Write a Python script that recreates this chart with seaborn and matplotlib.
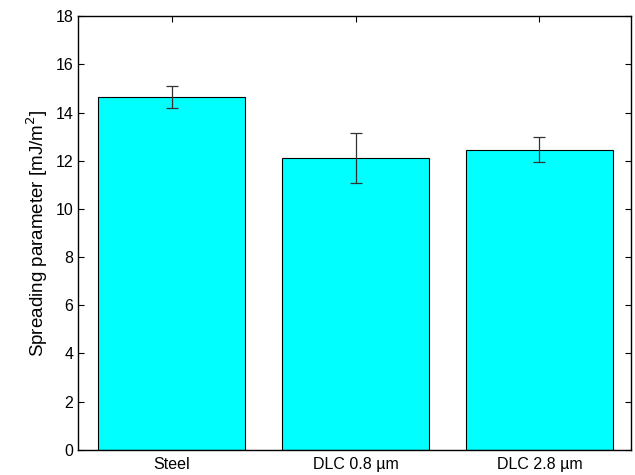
import matplotlib
matplotlib.use("Agg")
import matplotlib.pyplot as plt
import seaborn as sns
import pandas as pd

sns.set_theme(style="ticks")
plt.rcParams["font.family"] = ["Liberation Sans", "DejaVu Sans"]
plt.rcParams["text.color"] = "black"
plt.rcParams["axes.labelcolor"] = "black"
plt.rcParams["xtick.color"] = "black"
plt.rcParams["ytick.color"] = "black"

surfaces = ["Steel", "DLC 0.8 µm", "DLC 2.8 µm"]
spreading = [14.65, 12.12, 12.45]
spread_err = [0.45, 1.05, 0.52]

df = pd.DataFrame({"surface": surfaces, "spreading": spreading})

fig = plt.figure(figsize=(6.35, 4.75), dpi=100)
ax = fig.add_axes([0.123, 0.053, 0.871, 0.913])

sns.barplot(data=df, x="surface", y="spreading", color="#00ffff",
            saturation=1, width=0.8, edgecolor="black", linewidth=0.8,
            errorbar=None, ax=ax)
ax.errorbar(range(len(surfaces)), spreading, yerr=spread_err, fmt="none",
            ecolor="#333333", elinewidth=0.9, capsize=4, capthick=0.9)

ax.set_xlim(-0.51, 2.5)
ax.set_ylim(0, 18)
ax.set_yticks(range(0, 19, 2))
ax.set_xlabel("")
ax.set_ylabel("Spreading parameter [mJ/m$^2$]", fontsize=13.5, labelpad=4)
ax.tick_params(axis="both", direction="in", labelsize=11.5, length=4,
               width=0.8, top=True, right=True, bottom=False)
ax.tick_params(axis="x", pad=5)
for s in ax.spines.values():
    s.set_linewidth(1.0)
    s.set_color("black")

fig.savefig("out.png", dpi=100)
